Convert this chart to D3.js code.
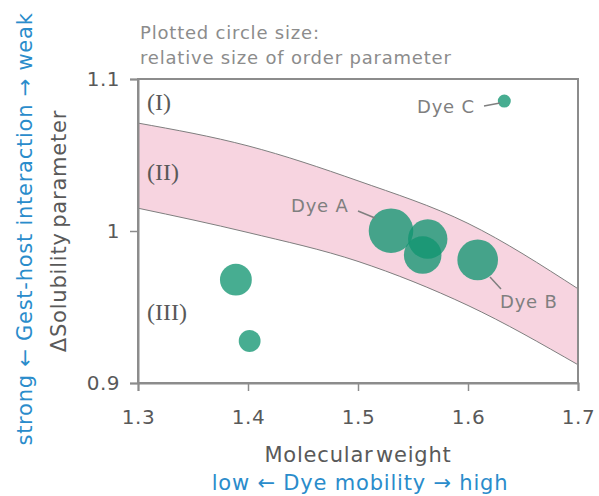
<!DOCTYPE html>
<html>
<head>
<meta charset="utf-8">
<script src="https://cdn.jsdelivr.net/npm/d3@7"></script>
<style>
  body { margin: 0; background: #fff; }
  svg { font-family: "DejaVu Sans", Verdana, sans-serif; }
</style>
</head>
<body>
<svg id="chart"></svg>
<script>
// dye points: molecular weight, delta solubility parameter, relative order parameter
const dyeWeight = [1.389, 1.4015, 1.530, 1.5634, 1.5588, 1.6088, 1.633];
const dyeSolubility = [0.968, 0.9276, 1.0002, 0.9947, 0.9842, 0.981, 1.0855];
const dyeOrder = [0.51, 0.24, 1.0, 0.78, 0.71, 0.83, 0.085];

// band (II) boundaries
const bandX = [1.3, 1.4, 1.5, 1.6, 1.7];
const bandUpper = [1.071, 1.056, 1.033, 1.005, 0.962];
const bandLower = [1.015, 0.999, 0.980, 0.951, 0.912];

const xTicks = [1.3, 1.4, 1.5, 1.6, 1.7];
const yTicks = [0.9, 1, 1.1];

const width = 599, height = 496;
const margin = { top: 79, right: 21, bottom: 113, left: 138 };

const svg = d3.select("#chart")
  .attr("width", width)
  .attr("height", height);

const x = d3.scaleLinear().domain([1.3, 1.7]).range([margin.left, width - margin.right]);
const y = d3.scaleLinear().domain([0.9, 1.1]).range([height - margin.bottom, margin.top]);
const r = d3.scaleSqrt().domain([0, 1]).range([0, 22.3]);

const grey = "#595959";
const lineGrey = "#8c8c8c";
const blue = "#2a8ccb";

// band
const area = d3.area()
  .x((d, i) => x(bandX[i]))
  .y0((d, i) => y(bandLower[i]))
  .y1((d, i) => y(bandUpper[i]))
  .curve(d3.curveMonotoneX);

svg.append("path")
  .datum(bandX)
  .attr("fill", "#f7d4e0")
  .attr("d", area);

[bandUpper, bandLower].forEach(vals => {
  const line = d3.line()
    .x((d, i) => x(bandX[i]))
    .y(d => y(d))
    .curve(d3.curveMonotoneX);
  svg.append("path")
    .datum(vals)
    .attr("fill", "none")
    .attr("stroke", "#7f7f7f")
    .attr("stroke-width", 1)
    .attr("d", line);
});

// frame
svg.append("rect")
  .attr("x", x(1.3))
  .attr("y", y(1.1))
  .attr("width", x(1.7) - x(1.3))
  .attr("height", y(0.9) - y(1.1))
  .attr("fill", "none")
  .attr("stroke", lineGrey)
  .attr("stroke-width", 2);

// axes
const xAxis = svg.append("g")
  .attr("transform", `translate(0,${y(0.9)})`)
  .call(d3.axisBottom(x).tickValues(xTicks).tickSize(8).tickPadding(19).tickFormat(d3.format(".1f")));

const yAxis = svg.append("g")
  .attr("transform", `translate(${x(1.3)},0)`)
  .call(d3.axisLeft(y).tickValues(yTicks).tickSize(8).tickPadding(10).tickFormat(d => d === 1 ? "1" : d3.format(".1f")(d)));

[xAxis, yAxis].forEach(g => {
  g.select(".domain").attr("stroke", lineGrey).attr("stroke-width", 2);
  g.selectAll(".tick line").attr("stroke", lineGrey).attr("stroke-width", 1.5);
  g.selectAll(".tick text")
    .attr("fill", grey)
    .style("font-size", "20px")
    .style("letter-spacing", "0.5px")
    .style("font-family", "DejaVu Sans, Verdana, sans-serif");
});

// region labels
const regionLabels = [
  { t: "(I)", v: 1.085 },
  { t: "(II)", v: 1.039 },
  { t: "(III)", v: 0.947 }
];
svg.selectAll(".region")
  .data(regionLabels)
  .join("text")
  .attr("x", x(1.3) + 9)
  .attr("y", d => y(d.v))
  .attr("dy", "0.35em")
  .attr("fill", grey)
  .style("font-family", "Liberation Serif, Times New Roman, serif")
  .style("font-size", "24px")
  .text(d => d.t);

// circles
svg.selectAll(".dot")
  .data(dyeWeight)
  .join("circle")
  .attr("cx", d => x(d))
  .attr("cy", (d, i) => y(dyeSolubility[i]))
  .attr("r", (d, i) => r(dyeOrder[i]))
  .attr("fill", "#0f9470")
  .attr("fill-opacity", 0.77);

// dye labels with leader lines
const dyeLabels = [
  { t: "Dye A", tx: 291, ty: 212, lx1: 358, ly1: 211, lx2: 375, ly2: 218 },
  { t: "Dye B", tx: 500, ty: 308, lx1: 490, ly1: 277, lx2: 501, ly2: 289 },
  { t: "Dye C", tx: 417, ty: 113, lx1: 484, ly1: 106, lx2: 500, ly2: 103 }
];
dyeLabels.forEach(d => {
  svg.append("line")
    .attr("x1", d.lx1).attr("y1", d.ly1)
    .attr("x2", d.lx2).attr("y2", d.ly2)
    .attr("stroke", "#7f7f7f")
    .attr("stroke-width", 1.5);
  svg.append("text")
    .attr("x", d.tx)
    .attr("y", d.ty)
    .attr("fill", "#7f7f7f")
    .style("font-size", "18px")
    .style("letter-spacing", "0.8px")
    .text(d.t);
});

// note
svg.append("text")
  .attr("x", 140).attr("y", 39)
  .attr("fill", "#8c8c8c")
  .style("font-size", "18px")
  .style("letter-spacing", "0.8px")
  .text("Plotted circle size:");
svg.append("text")
  .attr("x", 140).attr("y", 64)
  .attr("fill", "#8c8c8c")
  .style("font-size", "18px")
  .style("letter-spacing", "0.8px")
  .text("relative size of order parameter");

// axis titles
const xMid = (x(1.3) + x(1.7)) / 2;
const yMid = (y(0.9) + y(1.1)) / 2;

svg.append("text")
  .attr("x", xMid).attr("y", 462)
  .attr("text-anchor", "middle")
  .attr("fill", grey)
  .style("font-size", "21px")
  .style("letter-spacing", "0.8px")
  .style("word-spacing", "-5px")
  .text("Molecular weight");

svg.append("text")
  .attr("x", xMid + 2).attr("y", 490)
  .attr("text-anchor", "middle")
  .attr("fill", blue)
  .style("font-size", "21px")
  .style("letter-spacing", "0.8px")
  .text("low \u2190 Dye mobility \u2192 high");

svg.append("text")
  .attr("transform", `translate(66,${yMid}) rotate(-90)`)
  .attr("text-anchor", "middle")
  .attr("fill", grey)
  .style("font-size", "21px")
  .style("letter-spacing", "0.8px")
  .style("word-spacing", "-3px")
  .text("\u0394Solubility parameter");

svg.append("text")
  .attr("transform", `translate(32,${yMid - 2}) rotate(-90)`)
  .attr("text-anchor", "middle")
  .attr("fill", blue)
  .style("font-size", "21px")
  .style("letter-spacing", "0.75px")
  .text("strong \u2190 Gest-host interaction \u2192 weak");
</script>
</body>
</html>
